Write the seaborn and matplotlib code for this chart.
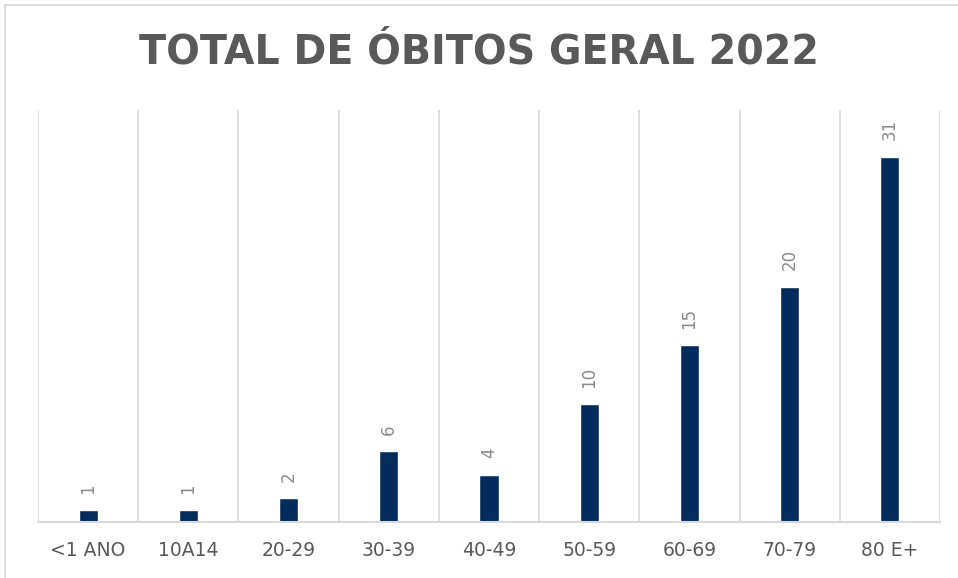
import seaborn as sns
import matplotlib.pyplot as plt
import pandas as pd
import numpy as np
from matplotlib.ticker import FixedLocator
from matplotlib.lines import Line2D

BAR = '#042c5c'
GRID = '#d9d9d9'
TITLE_C = '#595959'
LABEL_C = '#8a8a8a'

faixas = ['<1 ANO', '10A14', '20-29', '30-39', '40-49', '50-59', '60-69', '70-79', '80 E+']
obitos = [1, 1, 2, 6, 4, 10, 15, 20, 31]

df = pd.DataFrame({'Faixa': faixas, 'Obitos': obitos})

sns.set_theme(style='white')
plt.rcParams['font.family'] = ['DejaVu Sans']

fig = plt.figure(figsize=(9.58, 5.78), dpi=100, facecolor='white')
ax = fig.add_axes([38 / 958, 56 / 578, 902 / 958, 412 / 578])

sns.barplot(data=df, x='Faixa', y='Obitos', ax=ax, color=BAR, width=0.19,
            saturation=1, order=faixas)

for c in ax.containers:
    ax.bar_label(c, rotation=90, padding=12, color=LABEL_C, fontsize=12)

ax.set_xlim(-0.5, len(faixas) - 0.5)
ax.set_ylim(0, 35)
ax.set_yticks([])
ax.set_xlabel('')
ax.set_ylabel('')
ax.xaxis.set_minor_locator(FixedLocator(np.arange(-0.5, len(faixas), 1)))
ax.grid(which='minor', axis='x', color=GRID, lw=1.2)
ax.tick_params(axis='x', which='both', length=0, pad=14, labelsize=13.5,
               labelcolor=TITLE_C)

for s in ['top', 'right', 'left']:
    ax.spines[s].set_visible(False)
ax.spines['bottom'].set_color(GRID)
ax.spines['bottom'].set_linewidth(1.5)

# moldura do gráfico
fig.add_artist(Line2D([5 / 958, 1], [1 - 5 / 578, 1 - 5 / 578],
                      color=GRID, lw=1.2, transform=fig.transFigure))
fig.add_artist(Line2D([5 / 958, 5 / 958], [0, 1 - 5 / 578],
                      color=GRID, lw=1.2, transform=fig.transFigure))

fig.text(0.5, 1 - 52 / 578, 'TOTAL DE ÓBITOS GERAL 2022', ha='center',
         va='center', fontsize=28.5, fontweight='bold', color=TITLE_C)

plt.savefig('out.png', dpi=100, facecolor='white')
